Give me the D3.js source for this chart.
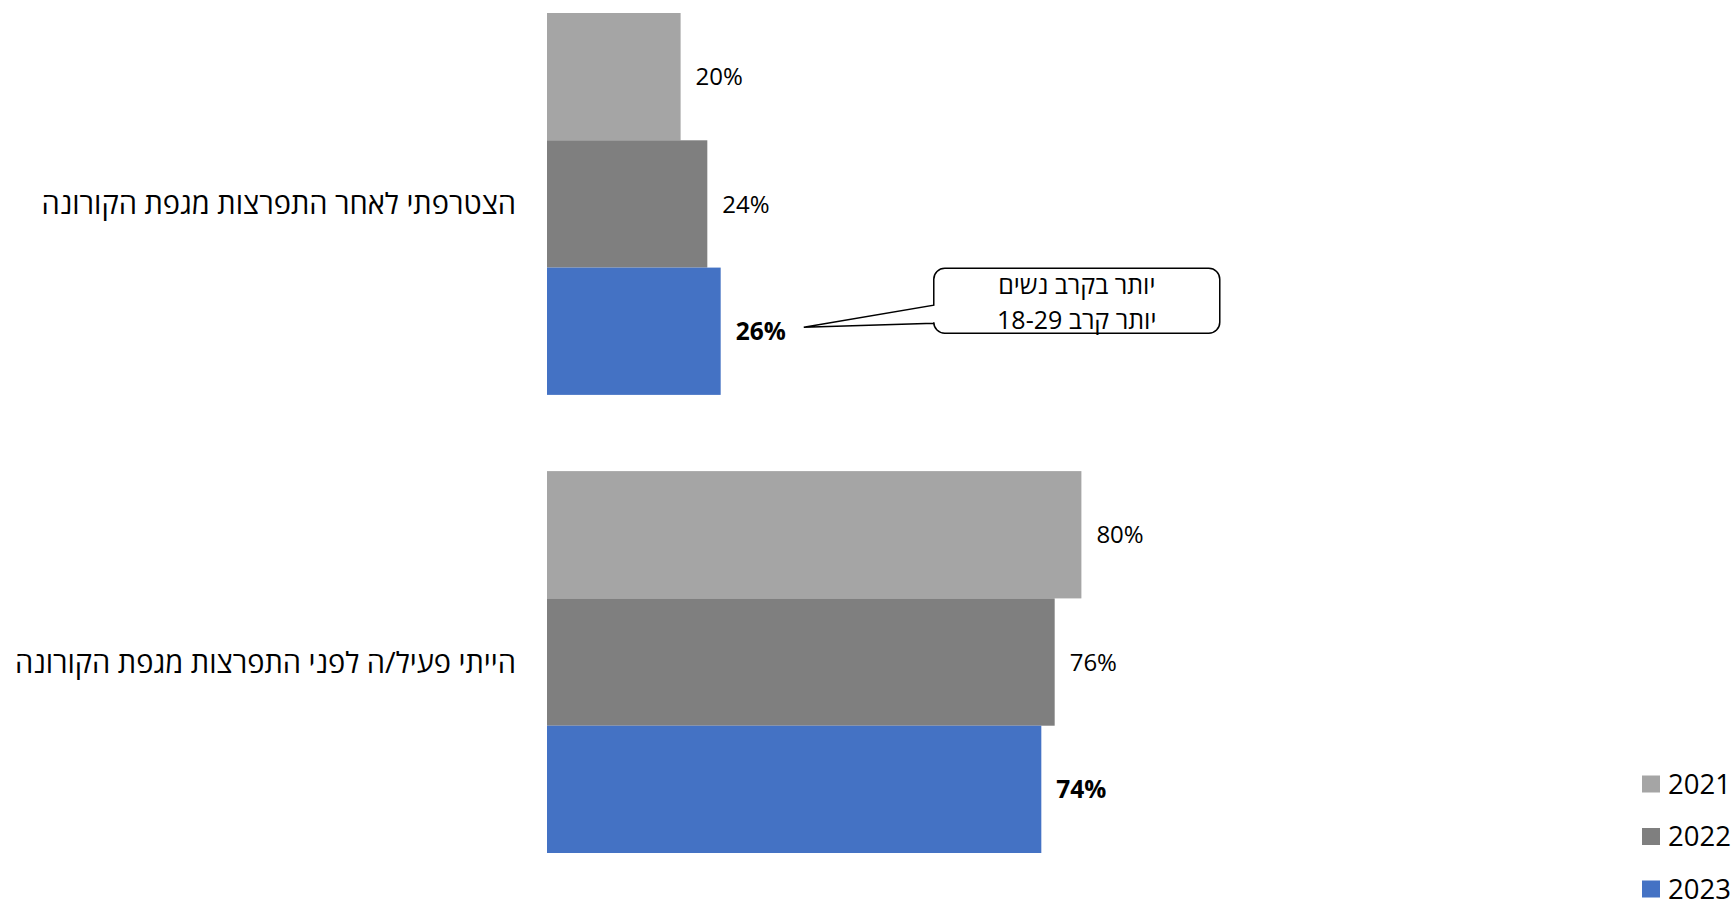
<!DOCTYPE html>
<html lang="he">
<head>
<meta charset="utf-8">
<title>הצטרפות לפני ואחרי מגפת הקורונה</title>
<script src="https://cdn.jsdelivr.net/npm/d3@7/dist/d3.min.js"></script>
<style>
  html, body { margin: 0; padding: 0; background: #ffffff; }
  svg { display: block; }
  text { font-family: "Open Sans", "Liberation Sans", "DejaVu Sans", sans-serif; fill: #000; }
</style>
</head>
<body>
<svg id="chart" width="1736" height="907"></svg>
<script>
// Categories (top to bottom) and series values per year, in percent
const categories = [
  "הצטרפתי לאחר התפרצות מגפת הקורונה",
  "הייתי פעיל/ה לפני התפרצות מגפת הקורונה"
];
const years = ["2021", "2022", "2023"];
const values2021 = [20, 80];
const values2022 = [24, 76];
const values2023 = [26, 74];
const seriesColors = ["#a5a5a5", "#7f7f7f", "#4472c4"];
const calloutLines = ["יותר בקרב נשים", "יותר קרב 18-29"];

const series = [values2021, values2022, values2023];

const svg = d3.select("#chart");

// Scales
const x = d3.scaleLinear().domain([0, 100]).range([547, 1215]);
const y = d3.scaleBand().domain(categories).range([13, 853]).paddingInner(0.1664).paddingOuter(0);
const yInner = d3.scaleBand().domain(years).range([0, y.bandwidth()]).padding(0);

// One row per (category, year)
const rows = [];
categories.forEach((c, ci) => {
  years.forEach((yr, si) => {
    rows.push({ cat: c, year: yr, si, value: series[si][ci] });
  });
});

const g = svg.append("g");

g.selectAll("rect.bar")
  .data(rows)
  .enter().append("rect")
  .attr("class", "bar")
  .attr("x", x(0))
  .attr("y", d => y(d.cat) + yInner(d.year))
  .attr("width", d => x(d.value) - x(0))
  .attr("height", yInner.bandwidth())
  .attr("fill", d => seriesColors[d.si]);

// Value labels (latest year in bold)
const fmt = v => v + "%";
g.selectAll("text.val")
  .data(rows)
  .enter().append("text")
  .attr("class", "val")
  .attr("x", d => x(d.value) + 15)
  .attr("y", d => y(d.cat) + yInner(d.year) + yInner.bandwidth() / 2)
  .attr("dy", "0.36em")
  .attr("font-size", d => d.si === 2 ? 24.5 : 24)
  .attr("font-weight", d => d.si === 2 ? 700 : 400)
  .text(d => fmt(d.value));

// Category labels, right-aligned against the bars
const axisG = svg.append("g").attr("transform", `translate(${x(0)},0)`)
  .call(d3.axisLeft(y).tickSize(0).tickPadding(31));
axisG.select(".domain").remove();
axisG.selectAll("text")
  .attr("font-size", 29)
  .attr("font-family", null)
  .attr("direction", "rtl")
  .attr("text-anchor", "start")
  .attr("dy", "0.36em");

// Callout pointing at the 2023 label of the first category
const c0 = categories[0];
const labelNode = g.selectAll("text.val").filter(d => d.cat === c0 && d.year === "2023").node();
const lb = labelNode.getBBox();
const tip = [lb.x + lb.width + 18, y(c0) + yInner("2023") + yInner.bandwidth() / 2 - 4];
const box = { x0: tip[0] + 130, x1: tip[0] + 416, y0: tip[1] - 59, y1: tip[1] + 6 };
const r = 11;
const wedgeTop = box.y0 + 37, wedgeBot = box.y0 + 55;
const path = [
  `M${box.x0 + r},${box.y0}`,
  `H${box.x1 - r}`,
  `A${r},${r} 0 0 1 ${box.x1},${box.y0 + r}`,
  `V${box.y1 - r}`,
  `A${r},${r} 0 0 1 ${box.x1 - r},${box.y1}`,
  `H${box.x0 + r}`,
  `A${r},${r} 0 0 1 ${box.x0},${box.y1 - r}`,
  `V${wedgeBot}`,
  `L${tip[0]},${tip[1]}`,
  `L${box.x0},${wedgeTop}`,
  `V${box.y0 + r}`,
  `A${r},${r} 0 0 1 ${box.x0 + r},${box.y0}`,
  "Z"
].join(" ");
svg.append("path")
  .attr("d", path)
  .attr("fill", "#fff")
  .attr("stroke", "#000")
  .attr("stroke-width", 1.5);

const cx = (box.x0 + box.x1) / 2;
svg.append("g").selectAll("text")
  .data(calloutLines)
  .enter().append("text")
  .attr("x", cx)
  .attr("y", (d, i) => box.y0 + 17 + i * 34.5)
  .attr("dy", "0.36em")
  .attr("text-anchor", "middle")
  .attr("direction", "rtl")
  .attr("font-size", 25)
  .text(d => d);

// Legend
const legend = svg.append("g").attr("transform", "translate(1642,0)");
const legendY = d3.scalePoint().domain(years).range([784, 889]);
const li = legend.selectAll("g").data(years).enter().append("g")
  .attr("transform", d => `translate(0,${legendY(d)})`);
li.append("rect")
  .attr("x", 0).attr("y", -8.5).attr("width", 18).attr("height", 17)
  .attr("fill", (d, i) => seriesColors[i]);
li.append("text")
  .attr("x", 26).attr("dy", "0.36em")
  .attr("font-size", 27.5)
  .text(d => d);
</script>
</body>
</html>
